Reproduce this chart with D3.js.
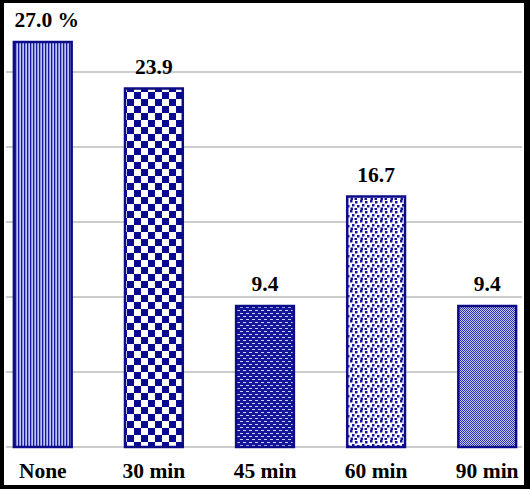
<!DOCTYPE html>
<html><head><meta charset="utf-8">
<script src="https://cdn.jsdelivr.net/npm/d3@7"></script>
<style>html,body{margin:0;padding:0;background:#fff;}svg{display:block;}</style>
</head><body>
<svg id="chart" width="530" height="489"></svg>
<script>
const categories = ["None", "30 min", "45 min", "60 min", "90 min"];
const values = [27.0, 23.9, 9.4, 16.7, 9.4];
const valueLabels = ["27.0 %", "23.9", "9.4", "16.7", "9.4"];
const gridTicks = [0, 5, 10, 15, 20, 25];
const patternIds = ["pNone", "p30", "p45", "p60", "p90"];

const W = 530, H = 489;
const svg = d3.select("#chart");
const navy = "#0c0c8a";

// frame
svg.append("rect").attr("width", W).attr("height", H).attr("fill", "#000");
svg.append("rect").attr("x", 4).attr("y", 3).attr("width", 520).attr("height", 482).attr("fill", "#fff");

const defs = svg.append("defs");
// None: vertical stripes
let p = defs.append("pattern").attr("id", "pNone").attr("patternUnits", "userSpaceOnUse").attr("width", 3).attr("height", 3);
p.append("rect").attr("width", 3).attr("height", 3).attr("fill", "#bcc4f4");
p.append("rect").attr("width", 1.3).attr("height", 3).attr("fill", "#1a1a9a");
// 30 min: checkerboard
p = defs.append("pattern").attr("id", "p30").attr("patternUnits", "userSpaceOnUse").attr("width", 14).attr("height", 14).attr("x", 1).attr("y", 1);
p.append("rect").attr("width", 14).attr("height", 14).attr("fill", "#fff");
p.append("rect").attr("width", 7).attr("height", 7).attr("fill", "#0a0a90");
p.append("rect").attr("x", 7).attr("y", 7).attr("width", 7).attr("height", 7).attr("fill", "#0a0a90");
// 45 min: dark with staggered light dashes
p = defs.append("pattern").attr("id", "p45").attr("patternUnits", "userSpaceOnUse").attr("width", 6).attr("height", 6);
p.append("rect").attr("width", 6).attr("height", 6).attr("fill", "#16169a");
p.append("rect").attr("x", 0).attr("y", 1).attr("width", 3).attr("height", 1).attr("fill", "#c8d0ff");
p.append("rect").attr("x", 3).attr("y", 4).attr("width", 3).attr("height", 1).attr("fill", "#c8d0ff");
// 60 min: confetti dots
p = defs.append("pattern").attr("id", "p60").attr("patternUnits", "userSpaceOnUse").attr("width", 10).attr("height", 10);
p.append("rect").attr("width", 10).attr("height", 10).attr("fill", "#fff");
[[0,0],[5,1],[2,4],[7,5],[0.5,7.5],[4.5,8]].forEach(([x,y]) =>
  p.append("rect").attr("x", x).attr("y", y).attr("width", 2.5).attr("height", 2.5).attr("fill", "#12129a"));
// 90 min: fine dither
p = defs.append("pattern").attr("id", "p90").attr("patternUnits", "userSpaceOnUse").attr("width", 2).attr("height", 2);
p.append("rect").attr("width", 2).attr("height", 2).attr("fill", "#c4caf6");
p.append("rect").attr("width", 1).attr("height", 1).attr("fill", "#2e2eae");
p.append("rect").attr("x", 1).attr("y", 1).attr("width", 1).attr("height", 1).attr("fill", "#2e2eae");

const x = d3.scaleBand().domain(categories).range([-15, 545]).paddingInner(0.48).paddingOuter(0.26);
const y = d3.scaleLinear().domain([0, 30]).range([447, -3]);

// gridlines
svg.append("g").selectAll("line").data(gridTicks).join("line")
  .attr("x1", 6).attr("x2", 522)
  .attr("y1", d => y(d)).attr("y2", d => y(d))
  .attr("stroke", "#bdbdbd").attr("stroke-width", 1.5);

// bars
svg.append("g").selectAll("rect").data(values).join("rect")
  .attr("x", (d, i) => x(categories[i]))
  .attr("width", x.bandwidth())
  .attr("y", d => y(d))
  .attr("height", d => y(0) - y(d))
  .attr("fill", (d, i) => `url(#${patternIds[i]})`)
  .attr("stroke", navy).attr("stroke-width", 2.5);

const font = "'Liberation Serif', 'Times New Roman', serif";
// value labels
svg.append("g").selectAll("text").data(values).join("text")
  .attr("x", (d, i) => x(categories[i]) + x.bandwidth() / 2 + (i === 0 ? 4 : 0))
  .attr("y", d => y(d) - 15)
  .attr("text-anchor", "middle")
  .attr("font-family", font).attr("font-weight", "bold").attr("font-size", 21.5)
  .attr("fill", "#000")
  .text((d, i) => valueLabels[i]);

// category labels
const xAxis = d3.axisBottom(x).tickSize(0).tickPadding(0);
const gx = svg.append("g").attr("transform", "translate(0,478)").call(xAxis);
gx.select(".domain").remove();
gx.selectAll("text").attr("dy", 0).attr("y", 0)
  .attr("font-family", font).attr("font-weight", "bold").attr("font-size", 21.5).attr("fill", "#000");
</script>
</body></html>
